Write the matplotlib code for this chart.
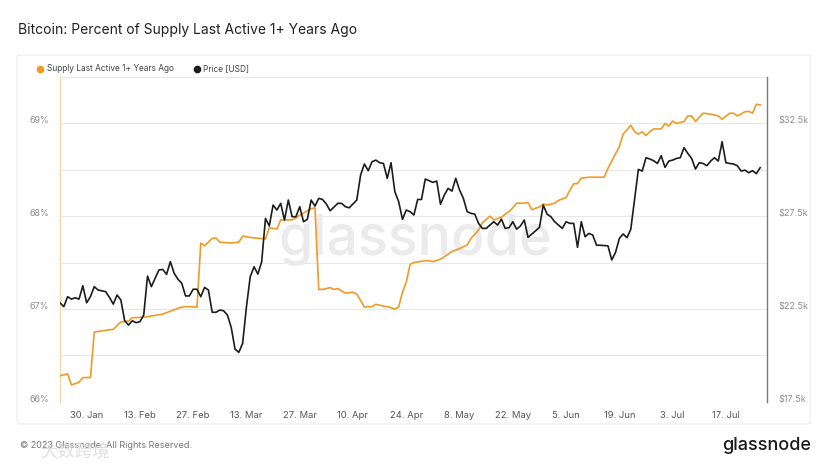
import matplotlib
matplotlib.use("Agg")
import matplotlib.pyplot as plt
from matplotlib.lines import Line2D
from matplotlib.patches import FancyBboxPatch
import pandas as pd
import numpy as np

plt.rcParams['font.family'] = ['Inter', 'DejaVu Sans']

START = "2023-01-23"

supply_days = [0, 2, 3, 5, 6, 8, 9, 12, 14, 16, 18, 19, 22, 25, 27, 30, 32, 33, 36, 37, 38, 40, 41, 42,
               45, 47, 48, 50, 54, 55, 56, 57, 58, 61, 62, 63, 66, 67, 68, 69, 71, 72, 73, 75, 77, 78,
               80, 82, 83, 85, 86, 88, 89, 90, 91, 92, 93, 96, 97, 98, 100, 102, 103, 105, 107, 108,
               110, 111, 113, 114, 116, 118, 119, 120, 122, 123, 124, 126, 127, 128, 130, 131, 133,
               134, 135, 136, 137, 139, 143, 144, 147, 148, 149, 150, 151, 152, 153, 154, 155, 156,
               158, 159, 160, 161, 162, 164, 165, 166, 167, 169, 171, 173, 174, 176, 177, 178, 180,
               181, 182, 183, 184]
supply_pct = [66.28, 66.30, 66.18, 66.21, 66.26, 66.26, 66.75, 66.77, 66.78, 66.86, 66.87, 66.905,
              66.91, 66.93, 66.945, 66.99, 67.02, 67.025, 67.02, 67.71, 67.68, 67.76, 67.765, 67.72,
              67.71, 67.72, 67.785, 67.77, 67.755, 67.875, 67.87, 67.86, 67.96, 67.96, 67.98, 68.01,
              68.08, 68.09, 67.21, 67.21, 67.23, 67.21, 67.22, 67.17, 67.18, 67.16,
              67.02, 67.025, 67.05, 67.03, 67.025, 67.00, 67.02, 67.18, 67.29, 67.48, 67.50, 67.52,
              67.52, 67.51, 67.535, 67.59, 67.62, 67.65, 67.69, 67.76,
              67.85, 67.93, 68.00, 67.96, 67.99, 68.05, 68.09, 68.14, 68.14, 68.145, 68.07, 68.10,
              68.13, 68.12, 68.14, 68.17, 68.20,
              68.28, 68.35, 68.35, 68.41, 68.42, 68.42, 68.515, 68.75, 68.885, 68.93, 68.98, 68.91,
              68.885, 68.91, 68.87, 68.91, 68.94,
              68.94, 69.00, 68.97, 69.025, 69.00, 69.02, 69.08, 69.08, 69.02, 69.11, 69.10, 69.08,
              69.045, 69.11, 69.11, 69.08, 69.125,
              69.13, 69.11, 69.205, 69.20]

price_days = [0, 1, 2, 3, 4, 5, 6, 7, 8, 9, 10, 12, 13, 14, 15, 16, 17, 18, 19, 20, 21, 22, 23, 24,
              26, 27, 28, 29, 30, 31, 32, 33, 34, 35, 36, 37, 38, 39, 40, 41, 42, 43, 44, 45, 46, 47,
              48, 49, 50, 51, 52, 53, 54, 55, 56, 57, 58, 59, 60, 61, 62, 63, 64, 65, 66, 67, 68, 69,
              70, 71, 73, 74, 75, 76, 78, 79, 80, 81, 82, 83, 84, 85, 86, 87, 88, 89, 90, 91, 92, 93,
              94, 95, 96, 97, 98, 99, 100, 101, 102, 103, 104, 105, 106, 107, 108, 109, 110, 111, 112,
              113, 114, 115, 116, 117, 118, 119, 120, 121, 122, 123, 124, 125, 126, 127, 128, 129,
              130, 132, 133, 134, 135, 136, 137, 138, 139, 140, 141, 142, 144, 145, 146, 147, 148,
              149, 150, 152, 153, 154, 155, 156, 157, 158, 159, 160, 161, 162, 163, 164, 165, 166,
              167, 168, 169, 170, 171, 172, 173, 174, 175, 176, 177, 178, 179, 180, 181, 182, 183, 184]
price_usd = [22830, 22620, 23160, 23030, 23100, 23030, 23750, 22830, 23160, 23700, 23520, 23430,
             23120, 22760, 23250, 22980, 21860, 21630, 21860, 21760, 21810, 22170, 24270, 23700,
             24600, 24630, 24360, 25050, 24420, 24100, 23880, 23200, 23200, 23560, 23560, 23160,
             23660, 23520, 22320, 22320, 22440, 22400, 22170, 21500, 20330, 20160,
             20650, 22620, 24240, 24770, 24380, 25040, 27380, 26970, 28100, 27830, 28190, 27290,
             28370, 27470, 27470, 28010, 27200, 27330, 28370, 28040, 28460, 28400,
             28150, 27790, 28190, 28190, 28010, 27950, 28370, 29720, 30310, 29950, 30430, 30520,
             30380, 30340, 29540, 30380, 28820, 28280, 27330, 27830, 27740, 27560,
             28400, 28400, 29500, 29410, 29320, 29390, 28140, 28640, 29000, 28850, 29540, 28910,
             28460, 27740, 27650, 27610, 27110, 26840, 26840,
             27020, 27200, 27020, 27340, 26840, 26880, 27200, 26800, 26970, 27290, 26360, 26540,
             26710, 26900, 28100, 27610, 27470,
             27200, 26840, 27200, 27110, 27110, 25820, 27200, 26390, 26570, 26480, 25940, 25930,
             25900, 25140, 25550, 26300, 26540,
             26340, 26790, 30020, 29930, 30650, 30580, 30490, 30340, 30760, 30130, 30470, 30520,
             30610, 30650, 31190, 30880, 30610,
             30040, 30380, 30340, 30220, 30470, 30650, 30470, 31510, 30380, 30340, 30310, 30220,
             29930, 29980, 29840, 29950, 29790, 30110]

tick_labels = ["30. Jan", "13. Feb", "27. Feb", "13. Mar", "27. Mar", "10. Apr", "24. Apr",
               "8. May", "22. May", "5. Jun", "19. Jun", "3. Jul", "17. Jul"]
pct_ticks = [66, 67, 68, 69]
pct_labels = ["66%", "67%", "68%", "69%"]
price_ticks = [17500, 22500, 27500, 32500]
price_labels = ["$17.5k", "$22.5k", "$27.5k", "$32.5k"]

ORANGE = "#f09a27"
BLACK = "#1c1c1c"
GREY = "#8c8c8c"

start = pd.Timestamp(START)
s_dates = start + pd.to_timedelta(supply_days, unit="D")
p_dates = start + pd.to_timedelta(price_days, unit="D")
tick_dates = pd.Timestamp("2023-01-30") + pd.to_timedelta(np.arange(len(tick_labels)) * 14, unit="D")

W, H = 828, 466
fig = plt.figure(figsize=(W / 100, H / 100), dpi=100)
fig.patch.set_facecolor("white")

# panel frame
panel = FancyBboxPatch((17 / W, 1 - 424 / H), (810 - 17) / W, (424 - 55) / H,
                       boxstyle="round,pad=0,rounding_size=0.004", transform=fig.transFigure,
                       facecolor="white", edgecolor="#ececec", linewidth=0.8, zorder=0)
fig.add_artist(panel)

L, R, T, B = 60, 767, 77, 401.7
ax = fig.add_axes([L / W, 1 - B / H, (R - L) / W, (B - T) / H])
ax.set_facecolor("none")
ax2 = ax.twinx()

ax.set_ylim(66, 69.5)
ax2.set_ylim(17500, 35000)
ax.set_xlim(start, start + pd.Timedelta(days=185.8))

ax.set_yticks(pct_ticks)
ax.set_yticklabels(pct_labels)
ax.set_yticks(np.arange(66.5, 69.51, 1.0), minor=True)
ax.grid(True, which="both", axis="y", color="#e8e8e8", linewidth=0.8)
ax.set_axisbelow(True)

ax2.set_yticks(price_ticks)
ax2.set_yticklabels(price_labels)

ax.set_xticks(tick_dates)
ax.set_xticklabels(tick_labels)

ax.tick_params(axis="y", which="both", length=0, labelsize=6.5, labelcolor=GREY, pad=8)
ax2.tick_params(axis="y", length=0, labelsize=6.5, labelcolor=GREY, pad=8)
ax.tick_params(axis="x", length=0, labelsize=6.8, labelcolor="#555555", pad=7)
for lab in ax.get_yticklabels() + ax2.get_yticklabels():
    lab.set_va("baseline")

for a in (ax, ax2):
    for sp in a.spines.values():
        sp.set_visible(False)
ax.spines["left"].set_visible(True)
ax.spines["left"].set_color("#f6d9a6")
ax.spines["left"].set_linewidth(1.0)
ax2.spines["right"].set_visible(True)
ax2.spines["right"].set_color("#7a7a7a")
ax2.spines["right"].set_linewidth(1.0)

# watermark (behind the lines)
ax.text((415 - L) / (R - L), (B - 240) / (B - T), "glassnode", transform=ax.transAxes,
        fontsize=40, color="#ebebeb", ha="center", va="center", fontweight="medium", zorder=1)

ax.plot(s_dates, supply_pct, color=ORANGE, linewidth=1.2, zorder=3)
ax2.plot(p_dates, price_usd, color=BLACK, linewidth=1.2, zorder=3)

# title
fig.text(18 / W, 1 - 30 / H, "Bitcoin: Percent of Supply Last Active 1+ Years Ago",
         fontsize=10.0, color="#222222", ha="left", va="center")

# legend
fig.add_artist(Line2D([40 / W], [1 - 68.5 / H], marker="o", markersize=4.5, color=ORANGE,
                      linestyle="none", transform=fig.transFigure))
fig.text(47 / W, 1 - 68.5 / H, "Supply Last Active 1+ Years Ago", fontsize=6.0,
         color="#444444", ha="left", va="center")
fig.add_artist(Line2D([197 / W], [1 - 68.5 / H], marker="o", markersize=4.5, color=BLACK,
                      linestyle="none", transform=fig.transFigure))
fig.text(203 / W, 1 - 68.5 / H, "Price [USD]", fontsize=6.0,
         color="#444444", ha="left", va="center")

# footer
fig.text(20 / W, 1 - 445 / H, "© 2023 Glassnode. All Rights Reserved.", fontsize=6.5,
         color="#777777", ha="left", va="center")
fig.text(40 / W, 1 - 451 / H, "大数跨境", fontsize=12.5, color="#dadada", alpha=0.85,
         ha="left", va="center", family=["Noto Sans CJK SC", "DejaVu Sans"])
fig.text(811 / W, 1 - 445 / H, "glassnode", fontsize=13, color="#1a1a1a",
         ha="right", va="center", fontweight="medium")

fig.savefig("out.png", dpi=100, facecolor="white")
